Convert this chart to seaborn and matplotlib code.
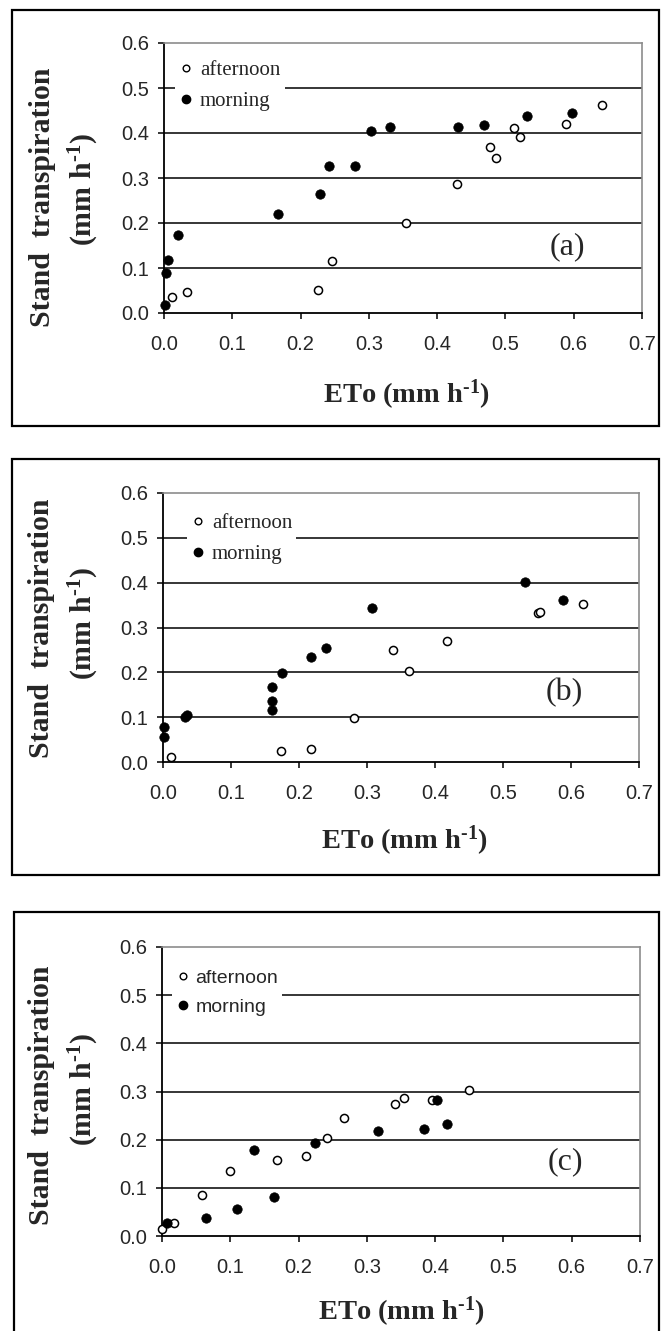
import matplotlib
matplotlib.use("Agg")
import matplotlib.pyplot as plt
import seaborn as sns
import pandas as pd
from matplotlib.lines import Line2D
from matplotlib.patches import Rectangle

# ---------------- data ----------------
x_ticks = [0.0, 0.1, 0.2, 0.3, 0.4, 0.5, 0.6, 0.7]
y_ticks = [0.0, 0.1, 0.2, 0.3, 0.4, 0.5, 0.6]
x_tick_labels = ["0.0", "0.1", "0.2", "0.3", "0.4", "0.5", "0.6", "0.7"]
y_tick_labels = ["0.0", "0.1", "0.2", "0.3", "0.4", "0.5", "0.6"]
series_names = ["afternoon", "morning"]
panel_letters = ["(a)", "(b)", "(c)"]

a_afternoon_x = [0.011, 0.034, 0.226, 0.246, 0.355, 0.429, 0.478, 0.486, 0.512, 0.521, 0.588, 0.641]
a_afternoon_y = [0.036, 0.046, 0.052, 0.115, 0.200, 0.287, 0.369, 0.345, 0.412, 0.392, 0.420, 0.463]
a_morning_x = [0.002, 0.003, 0.006, 0.021, 0.167, 0.229, 0.241, 0.279, 0.303, 0.331, 0.431, 0.468, 0.532, 0.597]
a_morning_y = [0.018, 0.090, 0.118, 0.173, 0.221, 0.265, 0.327, 0.327, 0.404, 0.414, 0.414, 0.417, 0.438, 0.445]

b_afternoon_x = [0.012, 0.173, 0.217, 0.281, 0.338, 0.362, 0.417, 0.552, 0.554, 0.617]
b_afternoon_y = [0.011, 0.024, 0.028, 0.098, 0.250, 0.202, 0.271, 0.332, 0.335, 0.353]
b_morning_x = [0.001, 0.001, 0.033, 0.035, 0.160, 0.160, 0.160, 0.175, 0.217, 0.239, 0.308, 0.532, 0.588]
b_morning_y = [0.077, 0.056, 0.100, 0.104, 0.167, 0.136, 0.115, 0.198, 0.234, 0.255, 0.344, 0.401, 0.362]

c_afternoon_x = [0.000, 0.018, 0.058, 0.099, 0.168, 0.211, 0.242, 0.267, 0.341, 0.354, 0.395, 0.450]
c_afternoon_y = [0.015, 0.026, 0.085, 0.134, 0.158, 0.167, 0.204, 0.244, 0.274, 0.287, 0.283, 0.303]
c_morning_x = [0.007, 0.064, 0.110, 0.135, 0.164, 0.224, 0.317, 0.383, 0.402, 0.418]
c_morning_y = [0.027, 0.038, 0.056, 0.178, 0.082, 0.194, 0.218, 0.223, 0.283, 0.233]

# ---------------- style ----------------
sns.set_style("white")
plt.rcParams["font.family"] = ["Liberation Sans", "DejaVu Sans"]
plt.rcParams["mathtext.fontset"] = "custom"
plt.rcParams["mathtext.rm"] = "Liberation Serif:bold"
plt.rcParams["mathtext.it"] = "Liberation Serif:bold"
plt.rcParams["mathtext.bf"] = "Liberation Serif:bold"

W, H = 665, 1331
fig = plt.figure(figsize=(W / 100, H / 100), dpi=100)
fig.patch.set_facecolor("white")


def fx(px):
    return px / W


def fy(py):
    return 1 - py / H


panels = [
    dict(ax=(164, 642, 43, 313), box=(12, 659, 10, 426),
         aft=(a_afternoon_x, a_afternoon_y), mor=(a_morning_x, a_morning_y),
         leg=(0.023, 0.95), legfont="Liberation Serif", legsize=15,
         ylab1=(43, 197), ylab2=(84, 190), xlab=(406, 395), letter_y=0.147),
    dict(ax=(163, 639, 493, 762), box=(12, 659, 459, 875),
         aft=(b_afternoon_x, b_afternoon_y), mor=(b_morning_x, b_morning_y),
         leg=(0.05, 0.94), legfont="Liberation Serif", legsize=15,
         ylab1=(42, 628), ylab2=(84, 624), xlab=(404, 841), letter_y=0.154),
    dict(ax=(162, 640, 947, 1236), box=(14, 659, 912, 1345),
         aft=(c_afternoon_x, c_afternoon_y), mor=(c_morning_x, c_morning_y),
         leg=(0.021, 0.935), legfont="Liberation Sans", legsize=14,
         ylab1=(42, 1095), ylab2=(84, 1090), xlab=(401, 1312), letter_y=0.154),
]

for i, p in enumerate(panels):
    x0, x1, y0, y1 = p["ax"]
    ax = fig.add_axes([fx(x0), fy(y1), (x1 - x0) / W, (y1 - y0) / H])
    ax.set_facecolor("none")

    # frame around the whole panel
    bx0, bx1, by0, by1 = p["box"]
    fig.patches.append(Rectangle((fx(bx0), fy(by1)), (bx1 - bx0) / W, (by1 - by0) / H,
                                 transform=fig.transFigure, fill=False,
                                 edgecolor="black", linewidth=1.6, zorder=0))

    # gridlines
    for yv in y_ticks[1:-1]:
        ax.axhline(yv, color="black", linewidth=1.1, zorder=1)

    df_a = pd.DataFrame({"x": p["aft"][0], "y": p["aft"][1]})
    df_m = pd.DataFrame({"x": p["mor"][0], "y": p["mor"][1]})
    sns.scatterplot(data=df_a, x="x", y="y", ax=ax, color="white", edgecolor="black",
                    linewidth=1.1, s=34, clip_on=False, zorder=3, legend=False)
    sns.scatterplot(data=df_m, x="x", y="y", ax=ax, color="black", edgecolor="black",
                    linewidth=0.5, s=46, clip_on=False, zorder=4, legend=False)

    ax.set_xlim(0, 0.7)
    ax.set_ylim(0, 0.6)
    ax.set_xticks(x_ticks)
    ax.set_xticklabels(x_tick_labels)
    ax.set_yticks(y_ticks)
    ax.set_yticklabels(y_tick_labels)
    ax.set_xlabel("")
    ax.set_ylabel("")
    ax.tick_params(axis="x", direction="out", length=4.5, width=1.1, pad=11,
                   labelsize=14.5, color="black", bottom=True)
    ax.tick_params(axis="y", direction="out", length=4.5, width=1.1, pad=6,
                   labelsize=14.5, color="black", left=True)
    for s in ["left", "bottom"]:
        ax.spines[s].set_color("black")
        ax.spines[s].set_linewidth(1.3)
        ax.spines[s].set_visible(True)
    for s in ["top", "right"]:
        ax.spines[s].set_color("#8c8c8c")
        ax.spines[s].set_linewidth(1.2)
        ax.spines[s].set_visible(True)

    # legend
    handles = [
        Line2D([], [], linestyle="none", marker="o", markersize=4.8,
               markerfacecolor="white", markeredgecolor="black", markeredgewidth=1.0),
        Line2D([], [], linestyle="none", marker="o", markersize=6.0,
               markerfacecolor="black", markeredgecolor="black"),
    ]
    leg = ax.legend(handles, series_names, loc="upper left", bbox_to_anchor=p["leg"],
                    borderaxespad=0, borderpad=0.2, handlelength=0.7, handletextpad=0.3,
                    labelspacing=0.55, frameon=True, fancybox=False,
                    prop={"family": p["legfont"], "size": p["legsize"]})
    leg.get_frame().set_facecolor("white")
    leg.get_frame().set_edgecolor("none")
    leg.get_frame().set_alpha(1)
    leg.set_zorder(5)

    # panel letter
    ax.text(0.59, p["letter_y"], panel_letters[i], ha="center", va="center",
            family="Liberation Serif", fontsize=23, zorder=6)

    # axis titles
    fig.text(fx(p["ylab1"][0]), fy(p["ylab1"][1]), "Stand  transpiration", rotation=90,
             ha="center", va="center", family="Liberation Serif", fontweight="bold",
             fontsize=21.5)
    fig.text(fx(p["ylab2"][0]), fy(p["ylab2"][1]), r"(mm h$^{\text{-1}}$)", rotation=90,
             ha="center", va="center", family="Liberation Serif", fontweight="bold",
             fontsize=21.5)
    fig.text(fx(p["xlab"][0]), fy(p["xlab"][1]), r"ETo (mm h$^{\text{-1}}$)",
             ha="center", va="center", family="Liberation Serif", fontweight="bold",
             fontsize=20.5)

fig.savefig("out.png", dpi=100, facecolor="white")
